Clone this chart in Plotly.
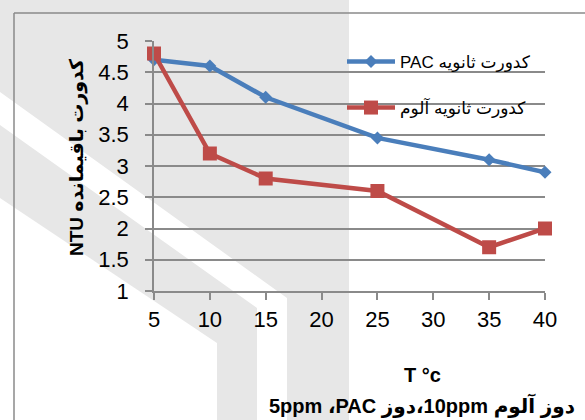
import plotly.graph_objects as go

# ---- data ----
temps_pac = [5, 10, 15, 25, 35, 40]
ntu_pac = [4.7, 4.6, 4.1, 3.45, 3.1, 2.9]
temps_alum = [5, 10, 15, 25, 35, 40]
ntu_alum = [4.8, 3.2, 2.8, 2.6, 1.7, 2.0]
name_pac = "\u202bکدورت ثانویه PAC\u202c"
name_alum = "\u202bکدورت ثانویه آلوم\u202c"
y_title = "NTU کدورت باقیمانده"
x_title1 = "T °c"
x_title2 = "5ppm ،PAC دوز\u200e،10ppm دوز آلوم"

# ---- layout geometry ----
WIDTH, HEIGHT = 585, 420
L, R, T, B = 154, 40, 41, 129
W = WIDTH - L - R
H = HEIGHT - T - B


def px(x):
    return (x - L) / W


def py(y):
    return (HEIGHT - B - y) / H


def path(points):
    return "M " + " L ".join(f"{px(a):.5f},{py(b):.5f}" for a, b in points) + " Z"


FONT = "Liberation Sans, Arial, DejaVu Sans, sans-serif"
BLUE = "#4A7EBB"
RED = "#BE4B48"
GRID = "#8a8a8a"
WM = "#e7e7e7"

fig = go.Figure()
fig.add_trace(go.Scatter(
    x=temps_pac, y=ntu_pac, name=name_pac, mode="lines+markers",
    line=dict(color=BLUE, width=4.5),
    marker=dict(symbol="diamond", size=10, color=BLUE),
    cliponaxis=False, legend="legend",
))
fig.add_trace(go.Scatter(
    x=temps_alum, y=ntu_alum, name=name_alum, mode="lines+markers",
    line=dict(color=RED, width=4.5),
    marker=dict(symbol="square", size=14, color=RED),
    cliponaxis=False, legend="legend2",
))

shapes = [
    # watermark
    dict(type="path", xref="paper", yref="paper", layer="below",
         path=path([(0, 0), (349, 0), (349, 420), (0, 420)]),
         fillcolor=WM, line=dict(width=0)),
    dict(type="path", xref="paper", yref="paper", layer="below",
         path=path([(0, 92), (287, 298), (287, 420), (257, 420), (257, 308), (0, 125)]),
         fillcolor="white", line=dict(width=0)),
    dict(type="path", xref="paper", yref="paper", layer="below",
         path=path([(0, 198), (217, 343), (217, 420), (0, 420)]),
         fillcolor="white", line=dict(width=0)),
    # chart-area border
    dict(type="line", xref="paper", yref="paper", layer="below",
         x0=px(14), y0=py(13), x1=px(600), y1=py(13),
         line=dict(color=GRID, width=1.5)),
    dict(type="line", xref="paper", yref="paper", layer="below",
         x0=px(14), y0=py(13), x1=px(14), y1=py(430),
         line=dict(color=GRID, width=1.5)),
]

annotations = [
    dict(text=y_title, x=px(77), y=py(157), xref="paper", yref="paper",
         textangle=-90, showarrow=False, xanchor="center", yanchor="middle",
         font=dict(family=FONT, size=19, color="black", weight=700)),
    dict(text=x_title1, x=px(422), y=py(375), xref="paper", yref="paper",
         showarrow=False, xanchor="center", yanchor="middle",
         font=dict(family=FONT, size=20, color="black", weight=700)),
    dict(text=x_title2, x=px(422), y=py(405), xref="paper", yref="paper",
         showarrow=False, xanchor="center", yanchor="middle",
         font=dict(family=FONT, size=20, color="black", weight=700)),
]

legend_common = dict(
    xanchor="left", yanchor="middle", bgcolor="rgba(0,0,0,0)",
    borderwidth=0, itemwidth=48,
    font=dict(family=FONT, size=17, color="black"),
)

fig.update_layout(
    width=WIDTH, height=HEIGHT,
    margin=dict(l=L, r=R, t=T, b=B, pad=0),
    paper_bgcolor="white", plot_bgcolor="rgba(0,0,0,0)",
    showlegend=True,
    legend=dict(x=px(342), y=py(62), **legend_common),
    legend2=dict(x=px(342), y=py(108), **legend_common),
    shapes=shapes, annotations=annotations,
    xaxis=dict(
        range=[5, 40], dtick=5, tick0=5, showgrid=False, zeroline=False,
        showline=True, linecolor=GRID, linewidth=1.5,
        ticks="outside", ticklen=7, tickcolor=GRID, tickwidth=1.5,
        ticklabelstandoff=1,
        tickfont=dict(family=FONT, size=22, color="black"),
    ),
    yaxis=dict(
        range=[1, 5], dtick=0.5, tick0=1, showgrid=True, gridcolor=GRID,
        gridwidth=1.5, zeroline=False,
        showline=True, linecolor=GRID, linewidth=1.5,
        ticks="outside", ticklen=7, tickcolor=GRID, tickwidth=1.5,
        ticklabelstandoff=12,
        tickfont=dict(family=FONT, size=22, color="black"),
    ),
)

fig.write_html("out.html")
